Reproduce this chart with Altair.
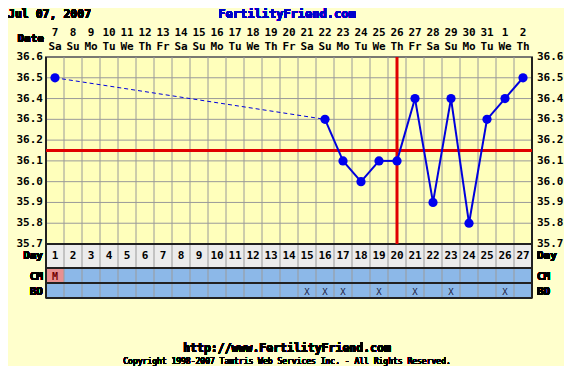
import altair as alt
import pandas as pd

# ---- data ----
cycle_days = list(range(1, 28))
dates = ["7", "8", "9", "10", "11", "12", "13", "14", "15", "16", "17", "18", "19", "20",
         "21", "22", "23", "24", "25", "26", "27", "28", "29", "30", "31", "1", "2"]
weekdays = ["Sa", "Su", "Mo", "Tu", "We", "Th", "Fr"] * 3 + ["Sa", "Su", "Mo", "Tu", "We", "Th"]
temps = [36.5] + [None] * 14 + [36.3, 36.1, 36.0, 36.1, 36.1, 36.4, 35.9, 36.4, 35.8, 36.3, 36.4, 36.5]
temp_ticks = [35.7, 35.8, 35.9, 36.0, 36.1, 36.2, 36.3, 36.4, 36.5, 36.6]
cover_line = 36.15
ovulation_day = 20
cm_days = [1]
cm_codes = ["M"]
bd_days = [15, 16, 17, 19, 21, 23, 26]
row_labels = ["Day", "CM", "BD"]
title_left = "Jul 07, 2007"
title_site = "FertilityFriend.com"
footer_url = "http://www.FertilityFriend.com"
footer_copy = "Copyright 1998-2007 Tamtris Web Services Inc. - All Rights Reserved."

# ---- layout constants (pixels) ----
W, H = 486, 241
T_BOTTOM = 187           # bottom of temperature area
ROWS = [(187, 211), (211, 226), (226, 241)]
FONT = "DejaVu Sans Mono"

df = pd.DataFrame({"day": cycle_days, "date": dates, "wd": weekdays, "temp": temps})
df["b"] = df["day"] - 0.5
ticks = pd.DataFrame({"t": temp_ticks})

# line segments: solid for consecutive days, dashed across gaps
known = [(d, t) for d, t in zip(cycle_days, temps) if t is not None]
seg_rows = []
for i in range(len(known) - 1):
    (d0, t0), (d1, t1) = known[i], known[i + 1]
    style = "solid" if d1 - d0 == 1 else "dashed"
    seg_rows.append({"seg": i, "style": style, "day": d0, "temp": t0})
    seg_rows.append({"seg": i, "style": style, "day": d1, "temp": t1})
segs = pd.DataFrame(seg_rows)
pts = pd.DataFrame({"day": [k[0] for k in known], "temp": [k[1] for k in known]})

xs = alt.Scale(domain=[0.5, 27.5], nice=False, zero=False)
ys = alt.Scale(domain=[35.7, 36.6], range=[T_BOTTOM, 0], nice=False, zero=False)
X = lambda f: alt.X(f, scale=xs, axis=None)
Y = lambda f: alt.Y(f, scale=ys, axis=None)

base = alt.Chart(df)
layers = []

# row backgrounds
row_fill = ["#ececec", "#8cb8e8", "#8cb8e8"]
for (y0, y1), c in zip(ROWS, row_fill):
    layers.append(alt.Chart(df).mark_rect(fill=c).encode(
        x=alt.value(0), x2=alt.value(W), y=alt.value(y0), y2=alt.value(y1)))

# CM cell
cm_df = pd.DataFrame({"day": cm_days, "code": cm_codes})
cm_df["x0"] = cm_df["day"] - 0.5
cm_df["x1"] = cm_df["day"] + 0.5
layers.append(alt.Chart(cm_df).mark_rect(fill="#e89090").encode(
    x=X("x0:Q"), x2="x1:Q", y=alt.value(ROWS[1][0] + 1), y2=alt.value(ROWS[1][1])))

# vertical grid
layers.append(base.mark_rule(color="#9a9a9a", strokeWidth=1).encode(
    x=X("b:Q"), y=alt.value(0), y2=alt.value(H)))
# horizontal grid
layers.append(alt.Chart(ticks).mark_rule(color="#9a9a9a", strokeWidth=1).encode(
    y=Y("t:Q"), x=alt.value(0), x2=alt.value(W)))
# row separators
for (y0, y1) in ROWS:
    layers.append(alt.Chart(df).mark_rule(color="#222222", strokeWidth=1.5).encode(
        x=alt.value(0), x2=alt.value(W), y=alt.value(y1)))
layers.append(alt.Chart(df).mark_rule(color="#222222", strokeWidth=1.5).encode(
    x=alt.value(0), x2=alt.value(W), y=alt.value(T_BOTTOM)))
layers.append(alt.Chart(df).mark_rule(color="#222222", strokeWidth=1.5).encode(
    x=alt.value(0), y=alt.value(0), y2=alt.value(H)))
layers.append(alt.Chart(df).mark_rule(color="#222222", strokeWidth=1.5).encode(
    x=alt.value(W), y=alt.value(0), y2=alt.value(H)))

# coverline and ovulation line
layers.append(alt.Chart(pd.DataFrame({"t": [cover_line]})).mark_rule(color="#e00000", strokeWidth=3).encode(
    y=Y("t:Q"), x=alt.value(0), x2=alt.value(W)))
layers.append(alt.Chart(pd.DataFrame({"day": [ovulation_day]})).mark_rule(color="#e00000", strokeWidth=3).encode(
    x=X("day:Q"), y=alt.value(0), y2=alt.value(T_BOTTOM)))

# temperature lines
layers.append(alt.Chart(segs).transform_filter("datum.style == 'dashed'").mark_line(
    color="#0000dd", strokeWidth=1, strokeDash=[4, 3]).encode(
    x=X("day:Q"), y=Y("temp:Q"), detail="seg:N"))
layers.append(alt.Chart(segs).transform_filter("datum.style == 'solid'").mark_line(
    color="#0000dd", strokeWidth=2).encode(
    x=X("day:Q"), y=Y("temp:Q"), detail="seg:N"))
layers.append(alt.Chart(pts).mark_circle(color="#0000ee", opacity=1, size=85).encode(
    x=X("day:Q"), y=Y("temp:Q")))

# tick labels left / right
tl = dict(font=FONT, fontSize=11, fontWeight="bold", color="#000000", baseline="middle")
layers.append(alt.Chart(ticks).mark_text(align="right", **tl).encode(
    y=Y("t:Q"), x=alt.value(-3), text=alt.Text("t:Q", format=".1f")))
layers.append(alt.Chart(ticks).mark_text(align="left", **tl).encode(
    y=Y("t:Q"), x=alt.value(W + 5), text=alt.Text("t:Q", format=".1f")))

# dates & weekdays at top
layers.append(base.mark_text(align="center", **tl).encode(
    x=X("day:Q"), y=alt.value(-24), text="date:N"))
layers.append(base.mark_text(align="center", **tl).encode(
    x=X("day:Q"), y=alt.value(-10), text="wd:N"))
layers.append(alt.Chart(df).mark_text(align="right", **tl).encode(
    x=alt.value(-2), y=alt.value(-18), text=alt.value("Date")))

# day numbers in day row
layers.append(base.mark_text(align="center", **tl).encode(
    x=X("day:Q"), y=alt.value((ROWS[0][0] + ROWS[0][1]) / 2), text="day:N"))

# CM code
layers.append(alt.Chart(cm_df).mark_text(align="center", font=FONT, fontSize=10, fontWeight="bold",
                                         color="#700000", baseline="middle").encode(
    x=X("day:Q"), y=alt.value((ROWS[1][0] + ROWS[1][1]) / 2 + 1), text="code:N"))

# BD marks
bd_df = pd.DataFrame({"day": bd_days, "mark": ["X"] * len(bd_days)})
layers.append(alt.Chart(bd_df).mark_text(align="center", font=FONT, fontSize=9,
                                         color="#202040", baseline="middle").encode(
    x=X("day:Q"), y=alt.value((ROWS[2][0] + ROWS[2][1]) / 2 + 1), text="mark:N"))

# row labels
for lab, (y0, y1) in zip(row_labels, ROWS):
    yc = (y0 + y1) / 2 + (0 if lab == "Day" else 1)
    layers.append(alt.Chart(df).mark_text(align="right", **tl).encode(
        x=alt.value(-3), y=alt.value(yc), text=alt.value(lab)))
    layers.append(alt.Chart(df).mark_text(align="left", **tl).encode(
        x=alt.value(W + 5), y=alt.value(yc), text=alt.value(lab)))

# titles
layers.append(alt.Chart(df).mark_text(align="left", baseline="top", font=FONT, fontSize=11.5,
                                      fontWeight="bold", color="#000000").encode(
    x=alt.value(-38), y=alt.value(-48), text=alt.value(title_left)))
layers.append(alt.Chart(df).mark_text(align="center", baseline="top", font=FONT, fontSize=12,
                                      fontWeight="bold", color="#0000cc").encode(
    x=alt.value(241), y=alt.value(-48), text=alt.value(title_site)))

# footer
layers.append(alt.Chart(df).mark_text(align="center", baseline="middle", font=FONT, fontSize=11.5,
                                      fontWeight="bold", color="#000000").encode(
    x=alt.value(241), y=alt.value(292), text=alt.value(footer_url)))
layers.append(alt.Chart(df).mark_text(align="center", baseline="middle", font=FONT, fontSize=8,
                                      color="#000000").encode(
    x=alt.value(241), y=alt.value(305), text=alt.value(footer_copy)))

chart = alt.layer(*layers).properties(
    width=W, height=H, padding=0, background="#ffffcc"
).configure_view(fill="#ffffbb", stroke="#222222", strokeWidth=1.5)

chart.save("out.html", embed_options={"renderer": "svg", "actions": False})
